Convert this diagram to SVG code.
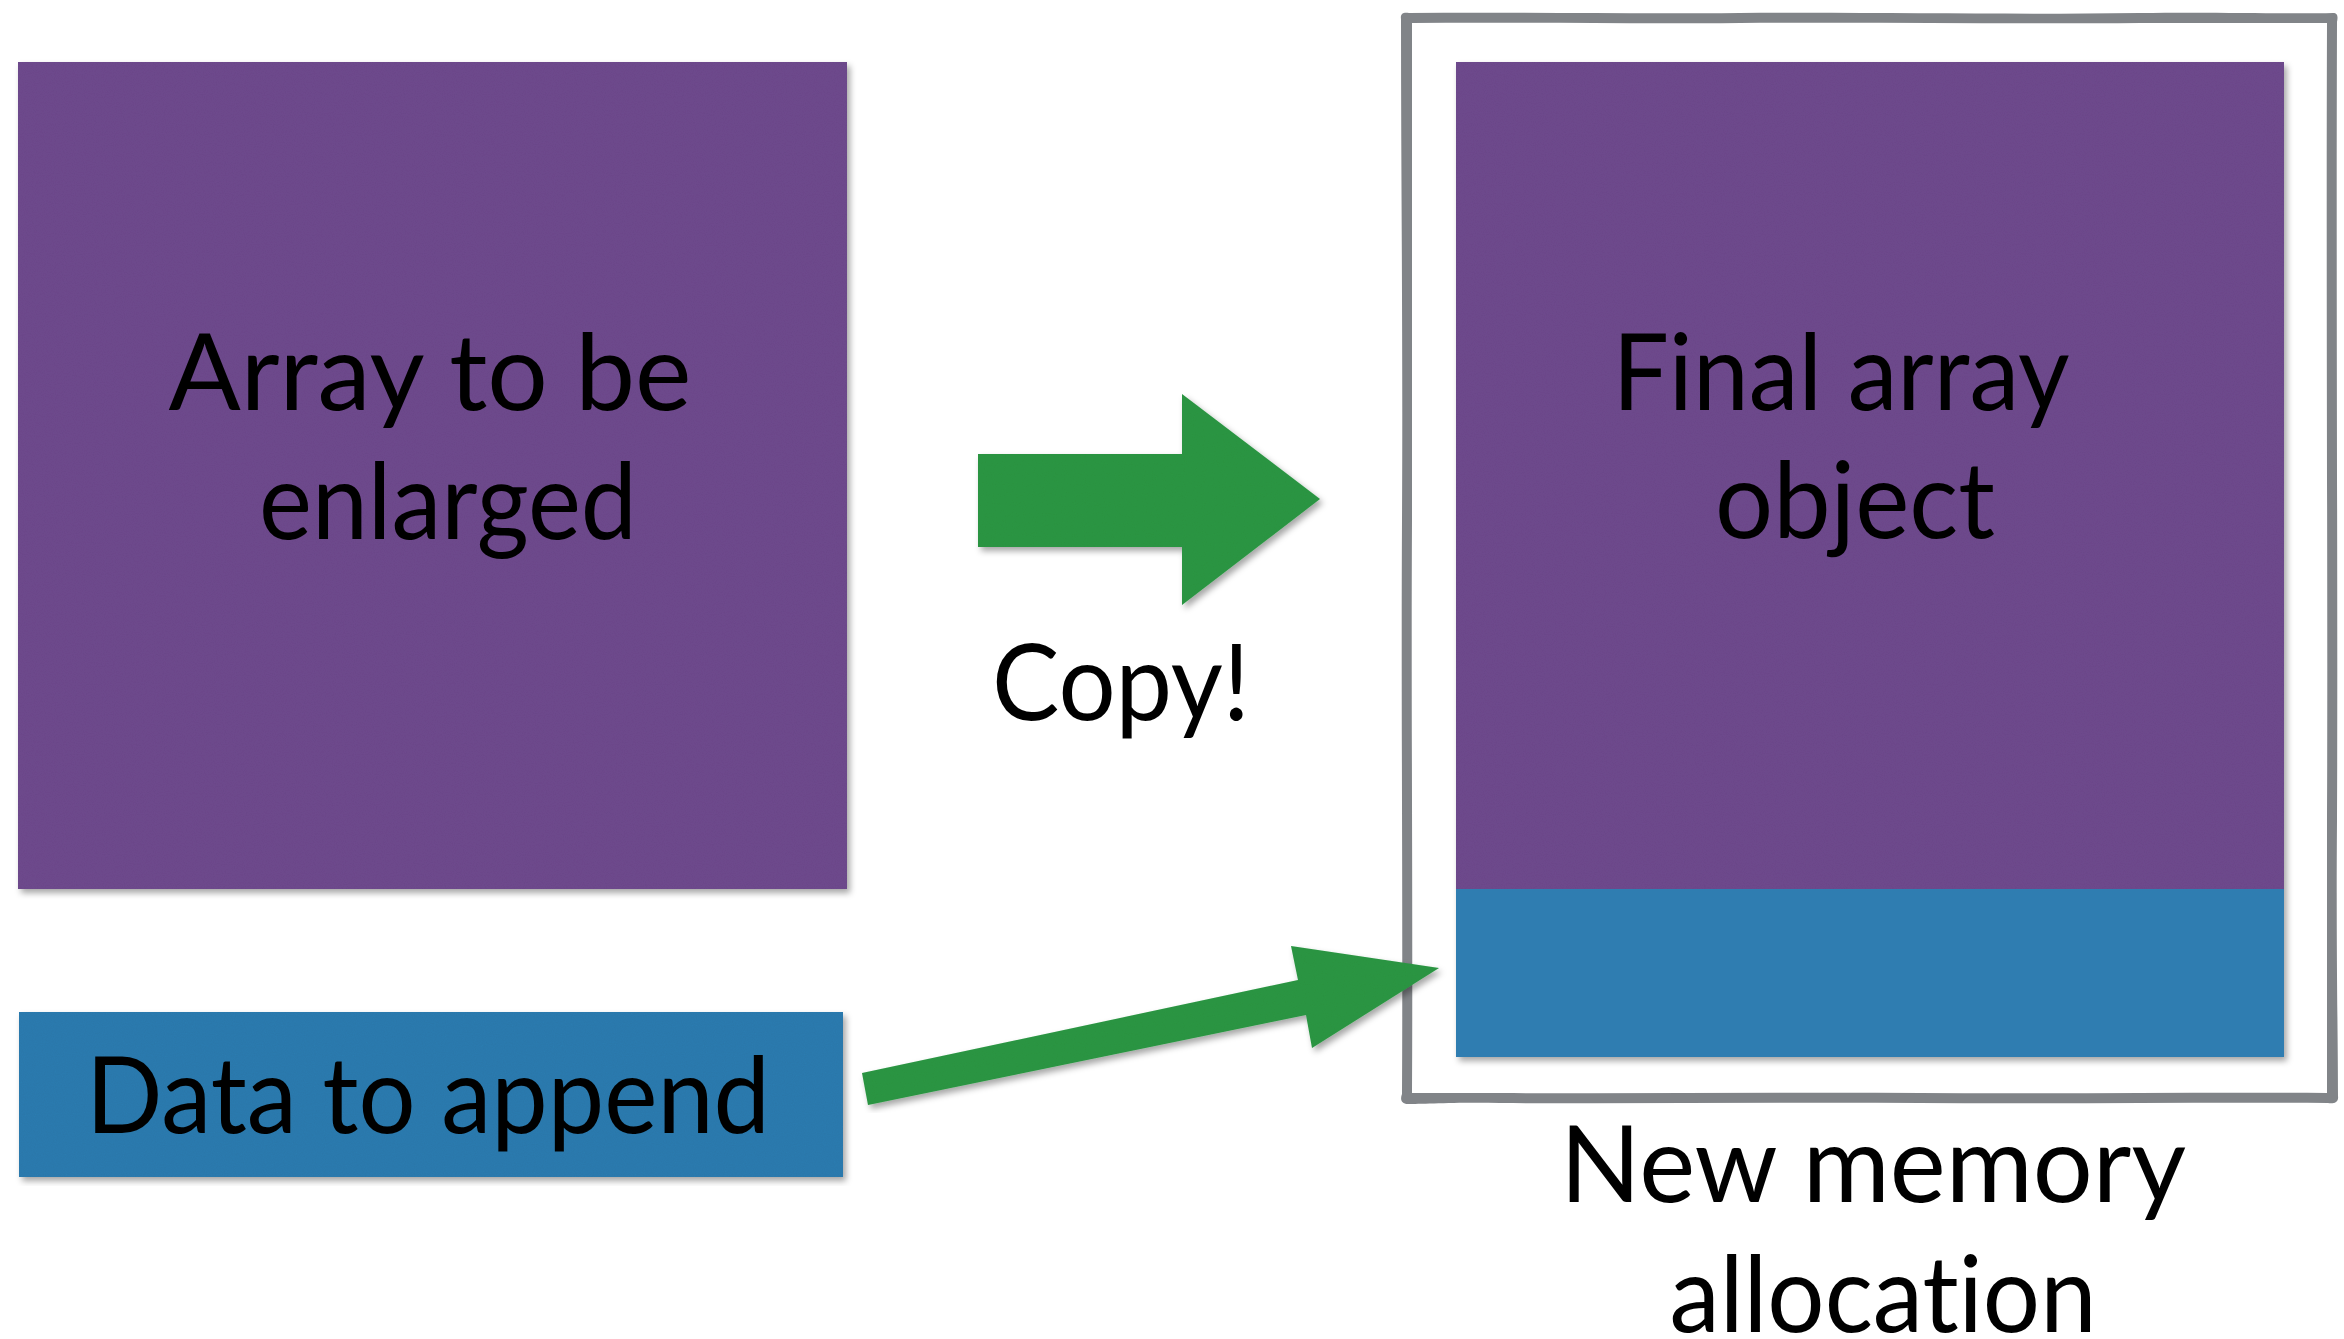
<svg xmlns="http://www.w3.org/2000/svg" width="2344" height="1339" viewBox="0 0 2344 1339">
  <defs>
    <filter id="paper" x="-5%" y="-5%" width="110%" height="110%">
      <feTurbulence type="fractalNoise" baseFrequency="0.9" numOctaves="2" seed="3" result="noise"/>
      <feColorMatrix in="noise" type="matrix" values="0 0 0 0 0  0 0 0 0 0  0 0 0 0 0  0 0 0 0.10 0" result="grain"/>
      <feComposite in="grain" in2="SourceGraphic" operator="in" result="grainIn"/>
      <feDropShadow in="SourceGraphic" dx="3" dy="4" stdDeviation="3" flood-color="#000" flood-opacity="0.35" result="shadowed"/>
      <feMerge>
        <feMergeNode in="shadowed"/>
        <feMergeNode in="grainIn"/>
      </feMerge>
    </filter>
  </defs>
  <style>
    .purple { fill: #6f4b8f; }
    .blue { fill: #2f7db1; }
    .green { fill: #2e9844; }
    .frame { fill: #818488; fill-rule: evenodd; stroke: none; }
    .label { font-family: Lato, "Open Sans", "Liberation Sans", sans-serif; font-size: 106px; fill: #000; text-anchor: middle; font-variant-ligatures: none; font-feature-settings: "liga" 0; }
  </style>

  <rect width="2344" height="1339" fill="#ffffff"/>

  <!-- source array -->
  <g id="array-to-enlarge">
    <rect class="purple" x="18" y="62" width="829" height="827" filter="url(#paper)"/>
    <text class="label" x="430" y="410" textLength="523" lengthAdjust="spacingAndGlyphs">Array to be</text>
    <text class="label" x="448" y="539" textLength="378" lengthAdjust="spacingAndGlyphs">enlarged</text>
  </g>

  <!-- data being appended -->
  <g id="data-to-append">
    <rect class="blue" x="19" y="1012" width="824" height="165" filter="url(#paper)"/>
    <text class="label" x="428" y="1133" textLength="684" lengthAdjust="spacingAndGlyphs">Data to append</text>
  </g>

  <!-- new allocation frame: hand-drawn ring (outer outline, then inner hole) -->
  <g id="new-memory-allocation">
    <path class="frame" d="M1401,19 C1400,13 1404,12 1409,13 C1520,12 1620,14 1740,13 C1880,12 2000,15 2140,13 C2220,12 2290,14 2333,13 C2338,13 2338,17 2337,22
                           C2336,300 2338,600 2337,820 C2336,950 2338,1040 2338,1096 C2339,1103 2333,1104 2328,1103
                           C2200,1102 2060,1104 1920,1103 C1780,1102 1640,1104 1500,1103 C1460,1102 1420,1104 1408,1104 C1401,1104 1400,1099 1402,1094
                           C1403,900 1401,700 1402,520 C1403,340 1401,180 1401,19 Z
                           M1412,23 L1412,520 C1411,700 1413,900 1412,1093 L1500,1093 C1640,1094 1780,1092 1920,1093 C2060,1094 2200,1092 2327,1093
                           L2327,820 C2328,600 2326,300 2327,23 L2140,23 C2000,24 1880,22 1740,23 C1620,24 1520,22 1412,23 Z"/>
    <text class="label" x="1873" y="1202" textLength="626" lengthAdjust="spacingAndGlyphs">New memory</text>
    <text class="label" x="1883" y="1332" textLength="427" lengthAdjust="spacingAndGlyphs">allocation</text>
  </g>

  <!-- resulting array: copied part plus appended part -->
  <g id="final-array">
    <rect class="purple" x="1456" y="62" width="828" height="995" filter="url(#paper)"/>
    <rect class="blue" x="1456" y="889" width="828" height="168"/>
    <text class="label" x="1841" y="410" textLength="457" lengthAdjust="spacingAndGlyphs">Final array</text>
    <text class="label" x="1855" y="538" textLength="280" lengthAdjust="spacingAndGlyphs">object</text>
  </g>

  <g id="connectors">
    <!-- copy arrow -->
    <path class="green" d="M978,454 L1182,454 L1182,394 L1320,499 L1182,605 L1182,547 L978,547 Z" filter="url(#paper)"/>
    <text class="label" x="1121" y="720" textLength="258" lengthAdjust="spacingAndGlyphs">Copy!</text>
    <!-- append arrow -->
    <path class="green" d="M862,1073 L1298,980 L1291,946 L1439,968 L1312,1048 L1306,1015 L868,1105 Z" filter="url(#paper)"/>
  </g>
</svg>
